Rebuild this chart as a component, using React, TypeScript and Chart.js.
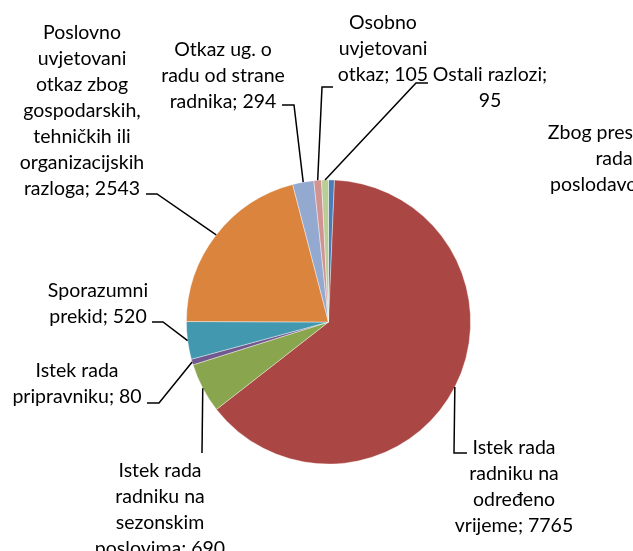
import React, { useEffect, useRef } from "react";
import { Chart, registerables } from "chart.js";

Chart.register(...registerables);

const categories = [
  "Zbog prestanka rada poslodavca",
  "Istek rada radniku na određeno vrijeme",
  "Istek rada radniku na sezonskim poslovima",
  "Istek rada pripravniku",
  "Sporazumni prekid",
  "Poslovno uvjetovani otkaz zbog gospodarskih, tehničkih ili organizacijskih razloga",
  "Otkaz ug. o radu od strane radnika",
  "Osobno uvjetovani otkaz",
  "Ostali razlozi",
];
const values = [82, 7765, 690, 80, 520, 2543, 294, 105, 95];
const colors = [
  "#4A7EBB", "#AA4643", "#89A54E", "#71588F", "#4198AF",
  "#DB843D", "#93A9CF", "#D19392", "#B9CD96",
];
// label lines ({v} = value)
const labelLines = [
  ["Zbog prestanka", "rada", "poslodavca; {v}"],
  ["Istek rada", "radniku na", "određeno", "vrijeme; {v}"],
  ["Istek rada", "radniku na", "sezonskim", "poslovima; {v}"],
  ["Istek rada", "pripravniku; {v}"],
  ["Sporazumni", "prekid; {v}"],
  ["Poslovno", "uvjetovani", "otkaz zbog", "gospodarskih,", "tehničkih ili", "organizacijskih", "razloga; {v}"],
  ["Otkaz ug. o", "radu od strane", "radnika; {v}"],
  ["Osobno", "uvjetovani", "otkaz; {v}"],
  ["Ostali razlozi;", "{v}"],
];
// layout: label centre x, first line centre y
const labelPos = [
  [614, 133], [514, 448], [160, 471], [77, 371], [98, 291],
  [82, 33], [223, 50], [383, 23], [490, 75],
];
// leader: [endX, endY, elbowX, elbowY] or null
const leaders: (number[] | null)[] = [
  null,
  [467, 453, 454, 453],
  [202, 453, 202, 453],
  [147, 403, 159, 403],
  [152, 322, 163, 322],
  [146, 194, 157, 194],
  [282, 105, 294, 105],
  [333, 87, 322, 87],
  [428, 83, 416, 83],
];

const LINE_H = 26;
const FONT = "19.5px Lato";

const labelPlugin = {
  id: "pieLabels",
  afterDatasetsDraw(chart: any) {
    const ctx = chart.ctx;
    const meta = chart.getDatasetMeta(0);
    ctx.save();
    ctx.strokeStyle = "#000";
    ctx.lineWidth = 1.5;
    meta.data.forEach((arc: any, i: number) => {
      const ld = leaders[i];
      if (!ld) return;
      const mid = (arc.startAngle + arc.endAngle) / 2;
      const ax = arc.x + Math.cos(mid) * arc.outerRadius;
      const ay = arc.y + Math.sin(mid) * arc.outerRadius;
      ctx.beginPath();
      ctx.moveTo(ld[0], ld[1]);
      ctx.lineTo(ld[2], ld[3]);
      ctx.lineTo(ax, ay);
      ctx.stroke();
    });
    ctx.fillStyle = "#000";
    ctx.font = FONT;
    ctx.textAlign = "center";
    ctx.textBaseline = "middle";
    labelLines.forEach((lines, i) => {
      const [cx, cy] = labelPos[i];
      lines.forEach((ln, j) => {
        ctx.fillText(ln.replace("{v}", String(values[i])), cx, cy + j * LINE_H);
      });
    });
    ctx.restore();
  },
};

export default function App() {
  const ref = useRef<HTMLCanvasElement>(null);
  useEffect(() => {
    if (!ref.current) return;
    const chart = new Chart(ref.current, {
      type: "pie",
      data: {
        labels: categories,
        datasets: [
          {
            data: values,
            backgroundColor: colors,
            borderColor: "rgba(255,255,255,0.5)",
            borderWidth: 0.8,
          },
        ],
      },
      options: {
        responsive: false,
        animation: false,
        layout: { padding: { left: 186, right: 162, top: 179, bottom: 86 } },
        plugins: { legend: { display: false }, tooltip: { enabled: false } },
      },
      plugins: [labelPlugin],
    });
    return () => chart.destroy();
  }, []);
  return (
    <div style={{ position: "absolute", left: 0, top: 0, width: 633, height: 551, background: "#fff" }}>
      <canvas ref={ref} width={633} height={551} />
    </div>
  );
}
